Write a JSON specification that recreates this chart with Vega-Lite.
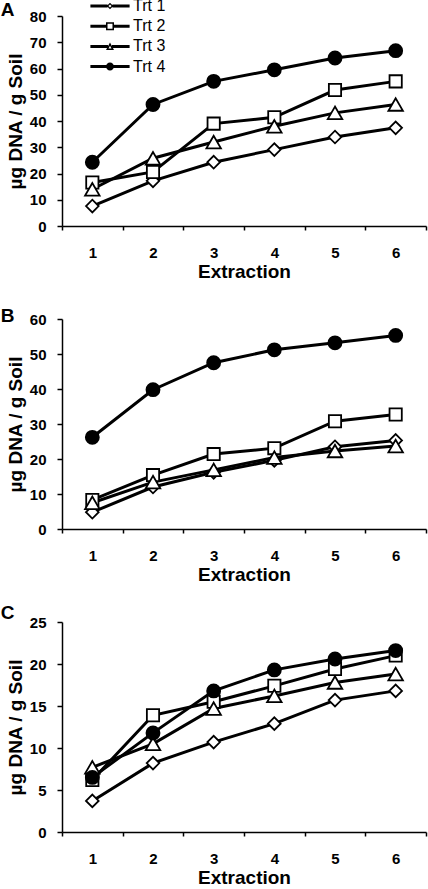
{
  "$schema": "https://vega.github.io/schema/vega-lite/v6.json",
  "padding": {"left": 0, "top": -2, "right": 0, "bottom": 0},
  "background": "white",
  "config": {
    "view": {"stroke": null},
    "font": "Liberation Sans",
    "axis": {
      "grid": false,
      "domainColor": "black",
      "domainWidth": 1.5,
      "tickColor": "black",
      "tickWidth": 1.5,
      "labelColor": "black",
      "titleColor": "black",
      "labelFont": "Liberation Sans",
      "titleFont": "Liberation Sans",
      "labelFontWeight": "bold",
      "titleFontWeight": "bold",
      "labelFontSize": 15,
      "titleFontSize": 19
    },
    "title": {"font": "Liberation Sans", "fontWeight": "bold", "fontSize": 19, "color": "black", "orient": "left", "angle": 0, "anchor": "end", "frame": "group", "offset": -22, "baseline": "alphabetic", "align": "left"}
  },
  "data": {
    "values": [
      {"panel": "A", "trt": "Trt 1", "ext": 1, "val": 7.6},
      {"panel": "A", "trt": "Trt 1", "ext": 2, "val": 17.2},
      {"panel": "A", "trt": "Trt 1", "ext": 3, "val": 24.3},
      {"panel": "A", "trt": "Trt 1", "ext": 4, "val": 29.1},
      {"panel": "A", "trt": "Trt 1", "ext": 5, "val": 33.9},
      {"panel": "A", "trt": "Trt 1", "ext": 6, "val": 37.4},
      {"panel": "A", "trt": "Trt 2", "ext": 1, "val": 16.6},
      {"panel": "A", "trt": "Trt 2", "ext": 2, "val": 20.6},
      {"panel": "A", "trt": "Trt 2", "ext": 3, "val": 39.0},
      {"panel": "A", "trt": "Trt 2", "ext": 4, "val": 41.4},
      {"panel": "A", "trt": "Trt 2", "ext": 5, "val": 51.8},
      {"panel": "A", "trt": "Trt 2", "ext": 6, "val": 55.1},
      {"panel": "A", "trt": "Trt 3", "ext": 1, "val": 14.0},
      {"panel": "A", "trt": "Trt 3", "ext": 2, "val": 25.8},
      {"panel": "A", "trt": "Trt 3", "ext": 3, "val": 32.0},
      {"panel": "A", "trt": "Trt 3", "ext": 4, "val": 38.0},
      {"panel": "A", "trt": "Trt 3", "ext": 5, "val": 43.1},
      {"panel": "A", "trt": "Trt 3", "ext": 6, "val": 46.3},
      {"panel": "A", "trt": "Trt 4", "ext": 1, "val": 24.3},
      {"panel": "A", "trt": "Trt 4", "ext": 2, "val": 46.3},
      {"panel": "A", "trt": "Trt 4", "ext": 3, "val": 55.1},
      {"panel": "A", "trt": "Trt 4", "ext": 4, "val": 59.5},
      {"panel": "A", "trt": "Trt 4", "ext": 5, "val": 64.0},
      {"panel": "A", "trt": "Trt 4", "ext": 6, "val": 66.8},
      {"panel": "B", "trt": "Trt 1", "ext": 1, "val": 4.8},
      {"panel": "B", "trt": "Trt 1", "ext": 2, "val": 12.0},
      {"panel": "B", "trt": "Trt 1", "ext": 3, "val": 16.2},
      {"panel": "B", "trt": "Trt 1", "ext": 4, "val": 19.6},
      {"panel": "B", "trt": "Trt 1", "ext": 5, "val": 23.5},
      {"panel": "B", "trt": "Trt 1", "ext": 6, "val": 25.3},
      {"panel": "B", "trt": "Trt 2", "ext": 1, "val": 8.3},
      {"panel": "B", "trt": "Trt 2", "ext": 2, "val": 15.4},
      {"panel": "B", "trt": "Trt 2", "ext": 3, "val": 21.4},
      {"panel": "B", "trt": "Trt 2", "ext": 4, "val": 23.1},
      {"panel": "B", "trt": "Trt 2", "ext": 5, "val": 30.8},
      {"panel": "B", "trt": "Trt 2", "ext": 6, "val": 32.7},
      {"panel": "B", "trt": "Trt 3", "ext": 1, "val": 7.5},
      {"panel": "B", "trt": "Trt 3", "ext": 2, "val": 13.4},
      {"panel": "B", "trt": "Trt 3", "ext": 3, "val": 16.9},
      {"panel": "B", "trt": "Trt 3", "ext": 4, "val": 20.4},
      {"panel": "B", "trt": "Trt 3", "ext": 5, "val": 22.3},
      {"panel": "B", "trt": "Trt 3", "ext": 6, "val": 23.7},
      {"panel": "B", "trt": "Trt 4", "ext": 1, "val": 26.2},
      {"panel": "B", "trt": "Trt 4", "ext": 2, "val": 39.8},
      {"panel": "B", "trt": "Trt 4", "ext": 3, "val": 47.5},
      {"panel": "B", "trt": "Trt 4", "ext": 4, "val": 51.2},
      {"panel": "B", "trt": "Trt 4", "ext": 5, "val": 53.2},
      {"panel": "B", "trt": "Trt 4", "ext": 6, "val": 55.3},
      {"panel": "C", "trt": "Trt 1", "ext": 1, "val": 3.7},
      {"panel": "C", "trt": "Trt 1", "ext": 2, "val": 8.2},
      {"panel": "C", "trt": "Trt 1", "ext": 3, "val": 10.7},
      {"panel": "C", "trt": "Trt 1", "ext": 4, "val": 12.9},
      {"panel": "C", "trt": "Trt 1", "ext": 5, "val": 15.7},
      {"panel": "C", "trt": "Trt 1", "ext": 6, "val": 16.8},
      {"panel": "C", "trt": "Trt 2", "ext": 1, "val": 6.2},
      {"panel": "C", "trt": "Trt 2", "ext": 2, "val": 13.9},
      {"panel": "C", "trt": "Trt 2", "ext": 3, "val": 15.5},
      {"panel": "C", "trt": "Trt 2", "ext": 4, "val": 17.4},
      {"panel": "C", "trt": "Trt 2", "ext": 5, "val": 19.4},
      {"panel": "C", "trt": "Trt 2", "ext": 6, "val": 21.0},
      {"panel": "C", "trt": "Trt 3", "ext": 1, "val": 7.7},
      {"panel": "C", "trt": "Trt 3", "ext": 2, "val": 10.5},
      {"panel": "C", "trt": "Trt 3", "ext": 3, "val": 14.7},
      {"panel": "C", "trt": "Trt 3", "ext": 4, "val": 16.2},
      {"panel": "C", "trt": "Trt 3", "ext": 5, "val": 17.8},
      {"panel": "C", "trt": "Trt 3", "ext": 6, "val": 18.8},
      {"panel": "C", "trt": "Trt 4", "ext": 1, "val": 6.5},
      {"panel": "C", "trt": "Trt 4", "ext": 2, "val": 11.8},
      {"panel": "C", "trt": "Trt 4", "ext": 3, "val": 16.8},
      {"panel": "C", "trt": "Trt 4", "ext": 4, "val": 19.3},
      {"panel": "C", "trt": "Trt 4", "ext": 5, "val": 20.6},
      {"panel": "C", "trt": "Trt 4", "ext": 6, "val": 21.6}
    ]
  },
  "bounds": "flush",
  "spacing": 93,
  "resolve": {
    "scale": {"x": "independent", "y": "independent", "shape": "independent"},
    "legend": {"shape": "independent"}
  },
  "vconcat": [
    {
      "width": 364,
      "height": 210,
      "title": {"text": "A", "dy": -15},
      "transform": [{"filter": "datum.panel === 'A'"}],
      "encoding": {
        "x": {"field": "ext", "type": "quantitative", "scale": {"domain": [0.5, 6.5], "nice": false, "zero": false},
          "axis": {"title": "Extraction", "values": [0.5, 1.5, 2.5, 3.5, 4.5, 5.5, 6.5], "tickSize": 4, "labelPadding": 15, "labelOffset": 30.33, "labelFlush": false, "labelOverlap": false, "labelExpr": "datum.value > 6 ? '' : format(datum.value + 0.5, 'd')", "titlePadding": 2}},
        "y": {"field": "val", "type": "quantitative", "scale": {"domain": [0, 80], "nice": false},
          "axis": {"title": "µg DNA / g Soil", "values": [0, 10, 20, 30, 40, 50, 60, 70, 80], "tickSize": 5, "labelPadding": 11, "titlePadding": 4}}
      },
      "layer": [
        {"mark": {"type": "line", "color": "black", "strokeWidth": 3}, "encoding": {"detail": {"field": "trt"}}},
        {"mark": {"type": "point", "filled": true, "stroke": "black", "strokeWidth": 1.8, "opacity": 1},
          "encoding": {
            "shape": {"condition": [{"test": "datum.trt === 'Trt 1'", "value": "diamond"}, {"test": "datum.trt === 'Trt 2'", "value": "square"}, {"test": "datum.trt === 'Trt 3'", "value": "triangle-up"}], "value": "circle"},
            "fill": {"condition": {"test": "datum.trt === 'Trt 4'", "value": "black"}, "value": "white"},
            "size": {"condition": [{"test": "datum.trt === 'Trt 1'", "value": 160}, {"test": "datum.trt === 'Trt 3'", "value": 210}, {"test": "datum.trt === 'Trt 4'", "value": 170}], "value": 150}
          }},
        {"mark": {"type": "point", "filled": true, "fill": "black", "stroke": "transparent", "strokeWidth": 0, "opacity": 0},
          "encoding": {
            "shape": {"field": "trt", "type": "nominal",
              "scale": {"domain": ["Trt 1", "Trt 2", "Trt 3", "Trt 4"], "range": [
                "M-4.9,-0.375H-0.6V0.375H-4.9Z M0.6,-0.375H4.9V0.375H0.6Z M-0.8,0L0,-0.8L0.8,0L0,0.8Z M-0.38,0L0,0.38L0.38,0L0,-0.38Z",
                "M-4.9,-0.375H-1V0.375H-4.9Z M1,-0.375H4.9V0.375H1Z M-1,-1H1V1H-1Z M-0.62,-0.62V0.62H0.62V-0.62Z",
                "M-4.9,-0.375H-0.5V0.375H-4.9Z M0.5,-0.375H4.9V0.375H0.5Z M0,-1L1,0.9L-1,0.9Z M0,-0.18L-0.37,0.52L0.37,0.52Z",
                "M-4.9,-0.375H4.9V0.375H-4.9Z M-1,0A1,1 0 1,1 1,0A1,1 0 1,1 -1,0Z"
              ]},
              "legend": {"orient": "none", "legendX": 40, "legendY": -18, "direction": "vertical", "title": null, "padding": 0,
                "symbolSize": 64, "symbolStrokeWidth": 0, "symbolOpacity": 1, "symbolFillColor": "black", "symbolStrokeColor": "transparent",
                "labelFont": "Liberation Sans", "labelFontSize": 16, "labelColor": "black", "labelOffset": 15, "rowPadding": 4.2}}
          }}
      ]
    },
    {
      "width": 364,
      "height": 210,
      "title": {"text": "B", "dy": -12},
      "transform": [{"filter": "datum.panel === 'B'"}],
      "encoding": {
        "x": {"field": "ext", "type": "quantitative", "scale": {"domain": [0.5, 6.5], "nice": false, "zero": false},
          "axis": {"title": "Extraction", "values": [0.5, 1.5, 2.5, 3.5, 4.5, 5.5, 6.5], "tickSize": 4, "labelPadding": 15, "labelOffset": 30.33, "labelFlush": false, "labelOverlap": false, "labelExpr": "datum.value > 6 ? '' : format(datum.value + 0.5, 'd')", "titlePadding": 2}},
        "y": {"field": "val", "type": "quantitative", "scale": {"domain": [0, 60], "nice": false},
          "axis": {"title": "µg DNA / g Soil", "values": [0, 10, 20, 30, 40, 50, 60], "tickSize": 5, "labelPadding": 11, "titlePadding": 4}}
      },
      "layer": [
        {"mark": {"type": "line", "color": "black", "strokeWidth": 3}, "encoding": {"detail": {"field": "trt"}}},
        {"mark": {"type": "point", "filled": true, "stroke": "black", "strokeWidth": 1.8, "opacity": 1},
          "encoding": {
            "shape": {"condition": [{"test": "datum.trt === 'Trt 1'", "value": "diamond"}, {"test": "datum.trt === 'Trt 2'", "value": "square"}, {"test": "datum.trt === 'Trt 3'", "value": "triangle-up"}], "value": "circle"},
            "fill": {"condition": {"test": "datum.trt === 'Trt 4'", "value": "black"}, "value": "white"},
            "size": {"condition": [{"test": "datum.trt === 'Trt 1'", "value": 160}, {"test": "datum.trt === 'Trt 3'", "value": 210}, {"test": "datum.trt === 'Trt 4'", "value": 170}], "value": 150}
          }}
      ]
    },
    {
      "width": 364,
      "height": 210,
      "title": {"text": "C", "dy": -18},
      "transform": [{"filter": "datum.panel === 'C'"}],
      "encoding": {
        "x": {"field": "ext", "type": "quantitative", "scale": {"domain": [0.5, 6.5], "nice": false, "zero": false},
          "axis": {"title": "Extraction", "values": [0.5, 1.5, 2.5, 3.5, 4.5, 5.5, 6.5], "tickSize": 4, "labelPadding": 15, "labelOffset": 30.33, "labelFlush": false, "labelOverlap": false, "labelExpr": "datum.value > 6 ? '' : format(datum.value + 0.5, 'd')", "titlePadding": 2}},
        "y": {"field": "val", "type": "quantitative", "scale": {"domain": [0, 25], "nice": false},
          "axis": {"title": "µg DNA / g Soil", "values": [0, 5, 10, 15, 20, 25], "tickSize": 5, "labelPadding": 11, "titlePadding": 4}}
      },
      "layer": [
        {"mark": {"type": "line", "color": "black", "strokeWidth": 3}, "encoding": {"detail": {"field": "trt"}}},
        {"mark": {"type": "point", "filled": true, "stroke": "black", "strokeWidth": 1.8, "opacity": 1},
          "encoding": {
            "shape": {"condition": [{"test": "datum.trt === 'Trt 1'", "value": "diamond"}, {"test": "datum.trt === 'Trt 2'", "value": "square"}, {"test": "datum.trt === 'Trt 3'", "value": "triangle-up"}], "value": "circle"},
            "fill": {"condition": {"test": "datum.trt === 'Trt 4'", "value": "black"}, "value": "white"},
            "size": {"condition": [{"test": "datum.trt === 'Trt 1'", "value": 160}, {"test": "datum.trt === 'Trt 3'", "value": 210}, {"test": "datum.trt === 'Trt 4'", "value": 170}], "value": 150}
          }}
      ]
    }
  ]
}
